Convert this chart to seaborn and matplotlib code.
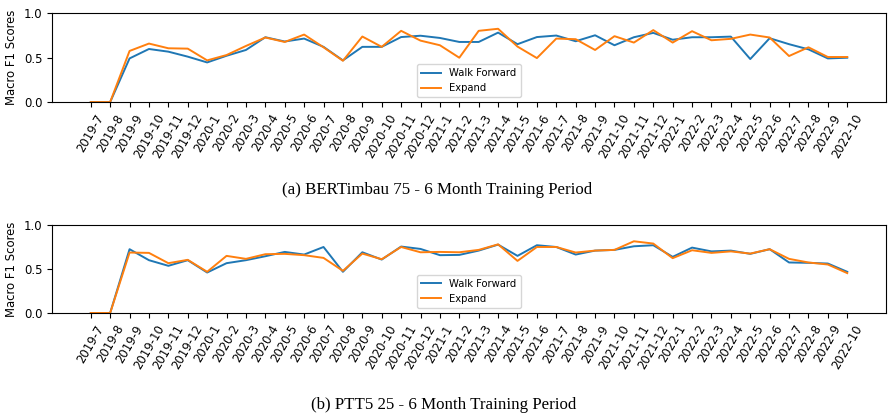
import numpy as np
import pandas as pd
import matplotlib
matplotlib.use("Agg")
import matplotlib.pyplot as plt
import seaborn as sns

# month labels on the x axis
months = ["2019-7", "2019-8", "2019-9", "2019-10", "2019-11", "2019-12",
          "2020-1", "2020-2", "2020-3", "2020-4", "2020-5", "2020-6",
          "2020-7", "2020-8", "2020-9", "2020-10", "2020-11", "2020-12",
          "2021-1", "2021-2", "2021-3", "2021-4", "2021-5", "2021-6",
          "2021-7", "2021-8", "2021-9", "2021-10", "2021-11", "2021-12",
          "2022-1", "2022-2", "2022-3", "2022-4", "2022-5", "2022-6",
          "2022-7", "2022-8", "2022-9", "2022-10"]

# (a) BERTimbau 75
bert_walk = [0.0, 0.0, 0.49, 0.596, 0.566, 0.51, 0.445, 0.52, 0.585, 0.728,
             0.68, 0.713, 0.62, 0.468, 0.62, 0.62, 0.73, 0.745, 0.72, 0.675,
             0.675, 0.78, 0.65, 0.73, 0.747, 0.683, 0.75, 0.638, 0.728, 0.777,
             0.70, 0.728, 0.728, 0.735, 0.483, 0.717, 0.65, 0.592, 0.49, 0.498]
bert_expand = [0.0, 0.0, 0.574, 0.657, 0.604, 0.60, 0.468, 0.528, 0.63, 0.725,
               0.675, 0.758, 0.615, 0.464, 0.736, 0.62, 0.80, 0.69, 0.638, 0.498,
               0.80, 0.823, 0.623, 0.494, 0.713, 0.706, 0.585, 0.74, 0.668, 0.808,
               0.668, 0.796, 0.694, 0.71, 0.758, 0.725, 0.517, 0.615, 0.506, 0.506]

# (b) PTT5 25
ptt5_walk = [0.0, 0.0, 0.725, 0.60, 0.536, 0.60, 0.46, 0.566, 0.60, 0.645,
             0.694, 0.664, 0.75, 0.468, 0.69, 0.607, 0.755, 0.728, 0.657, 0.66,
             0.709, 0.777, 0.649, 0.77, 0.75, 0.664, 0.709, 0.717, 0.758, 0.77,
             0.638, 0.743, 0.70, 0.709, 0.672, 0.725, 0.574, 0.57, 0.562, 0.468]
ptt5_expand = [0.0, 0.0, 0.687, 0.683, 0.566, 0.604, 0.468, 0.649, 0.615, 0.668,
               0.672, 0.657, 0.626, 0.479, 0.675, 0.611, 0.75, 0.69, 0.694, 0.69,
               0.717, 0.78, 0.592, 0.75, 0.75, 0.687, 0.709, 0.717, 0.815, 0.789,
               0.623, 0.713, 0.683, 0.70, 0.675, 0.725, 0.615, 0.574, 0.551, 0.453]

panels = [
    ("(a) BERTimbau 75 - 6 Month Training Period", bert_walk, bert_expand),
    ("(b) PTT5 25 - 6 Month Training Period", ptt5_walk, ptt5_expand),
]

plt.rcParams["font.size"] = 8.4

fig = plt.figure(figsize=(8.93, 4.2), dpi=100)
ax_boxes = [[0.0582, 0.757, 0.934, 0.212], [0.0582, 0.2548, 0.934, 0.2095]]
caption_pos = [(437 / 893, 1 - 190 / 420), (444 / 893, 1 - 405 / 420)]

idx = np.arange(len(months))
for box, (cap, walk, expand), cpos in zip(ax_boxes, panels, caption_pos):
    ax = fig.add_axes(box)
    df = pd.DataFrame({
        "x": np.concatenate([idx, idx]),
        "score": walk + expand,
        "method": ["Walk Forward"] * len(idx) + ["Expand"] * len(idx),
    })
    sns.lineplot(data=df, x="x", y="score", hue="method", ax=ax,
                 palette=["#1f77b4", "#ff7f0e"], linewidth=1.4)
    ax.set_xlim(-2, len(months) + 1)
    ax.set_ylim(0, 1)
    ax.set_yticks([0.0, 0.5, 1.0])
    ax.set_xticks(idx)
    ax.set_xticklabels(months, rotation=60)
    ax.set_xlabel("")
    ax.set_ylabel("Macro F1 Scores")
    ax.legend(loc="lower center", fontsize=7.2, title=None)
    fig.text(cpos[0], cpos[1], cap, ha="center", va="center",
             family="Liberation Serif", fontsize=12.2)

fig.savefig("out.png", dpi=100)
